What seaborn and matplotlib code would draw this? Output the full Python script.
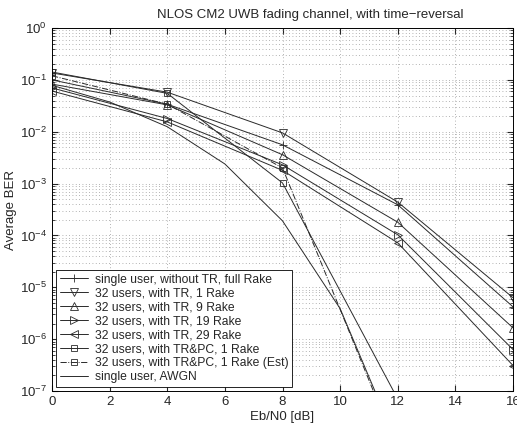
import seaborn as sns
import matplotlib
matplotlib.use('Agg')
import matplotlib.pyplot as plt
from matplotlib.ticker import LogLocator, NullFormatter

# Eb/N0 points [dB]
snr_sim = [0, 4, 8, 12, 16]
snr_pc = [0, 4, 8, 12]
snr_awgn = [0, 2, 4, 6, 8, 10, 12]

# BER values
ber_full_rake = [0.10, 0.034, 5.6e-3, 3.9e-4, 4.2e-6]
ber_tr1 = [0.136, 0.058, 9.5e-3, 4.4e-4, 6.3e-6]
ber_tr9 = [0.083, 0.033, 3.6e-3, 1.8e-4, 1.65e-6]
ber_tr19 = [0.070, 0.018, 2.3e-3, 1.03e-4, 6.3e-7]
ber_tr29 = [0.061, 0.0155, 1.8e-3, 7.2e-5, 3.1e-7]
ber_trpc = [0.142, 0.055, 1.03e-3, 7e-8]
ber_trpc_est = [0.12, 0.034, 2.0e-3, 7e-9]
ber_awgn = [7.86e-2, 3.75e-2, 1.25e-2, 2.39e-3, 1.91e-4, 3.87e-6, 9.0e-9]

labels = ['single user, without TR, full Rake',
          '32 users, with TR, 1 Rake',
          '32 users, with TR, 9 Rake',
          '32 users, with TR, 19 Rake',
          '32 users, with TR, 29 Rake',
          '32 users, with TR&PC, 1 Rake',
          '32 users, with TR&PC, 1 Rake (Est)',
          'single user, AWGN']

sns.set_style('ticks')
plt.rcParams['font.family'] = ['Liberation Sans', 'DejaVu Sans']
plt.rcParams['mathtext.fontset'] = 'custom'
plt.rcParams['mathtext.rm'] = 'Liberation Sans'

fig = plt.figure(figsize=(5.17, 4.25), dpi=100)
ax = fig.add_axes([0.1006, 0.08, 0.8917, 0.854])

lc = '#2a2a2a'
common = dict(color=lc, linewidth=0.7, markersize=6, markerfacecolor='none',
              markeredgecolor=lc, markeredgewidth=0.6)

sns.lineplot(x=snr_sim, y=ber_full_rake, marker='+', label=labels[0], ax=ax, **common)
sns.lineplot(x=snr_sim, y=ber_tr1, marker='v', label=labels[1], ax=ax, **common)
sns.lineplot(x=snr_sim, y=ber_tr9, marker='^', label=labels[2], ax=ax, **common)
sns.lineplot(x=snr_sim, y=ber_tr19, marker='>', label=labels[3], ax=ax, **common)
sns.lineplot(x=snr_sim, y=ber_tr29, marker='<', label=labels[4], ax=ax, **common)
sns.lineplot(x=snr_pc, y=ber_trpc, marker='s', label=labels[5], ax=ax,
             **dict(common, markersize=5))
sns.lineplot(x=snr_pc, y=ber_trpc_est, marker='s', linestyle='-.', label=labels[6], ax=ax,
             **dict(common, markersize=4))
sns.lineplot(x=snr_awgn, y=ber_awgn, label=labels[7], ax=ax,
             color=lc, linewidth=0.7)

ax.set_yscale('log')
ax.set_xlim(0, 16)
ax.set_ylim(1e-7, 1)
ax.set_xticks(range(0, 17, 2))
ax.yaxis.set_major_locator(LogLocator(base=10, numticks=10))
ax.yaxis.set_minor_locator(LogLocator(base=10, subs=range(2, 10), numticks=10))
ax.yaxis.set_minor_formatter(NullFormatter())

grid_style = dict(linestyle=(0, (1, 3)), color='#9a9a9a', linewidth=0.6)
ax.grid(True, which='major', axis='both', **grid_style)
ax.grid(True, which='minor', axis='y', **grid_style)
ax.tick_params(which='both', direction='in', top=True, right=True, labelsize=9.5)
ax.tick_params(which='major', length=4)
ax.tick_params(which='minor', length=2)
for s in ax.spines.values():
    s.set_linewidth(0.7)
    s.set_color('black')

ax.set_xlabel('Eb/N0 [dB]', fontsize=9.5, labelpad=2)
ax.set_ylabel('Average BER', fontsize=9.5, labelpad=2)
ax.set_title('NLOS CM2 UWB fading channel, with time\u2212reversal', fontsize=9.5, pad=7, x=0.56)

leg = ax.legend(loc='lower left', fontsize=8.7, frameon=True, fancybox=False,
                edgecolor='black', framealpha=1, borderaxespad=0.35,
                handlelength=2.3, labelspacing=0.16, borderpad=0.3, handletextpad=0.6)
leg.get_frame().set_linewidth(0.6)

fig.savefig('out.png', dpi=100)
